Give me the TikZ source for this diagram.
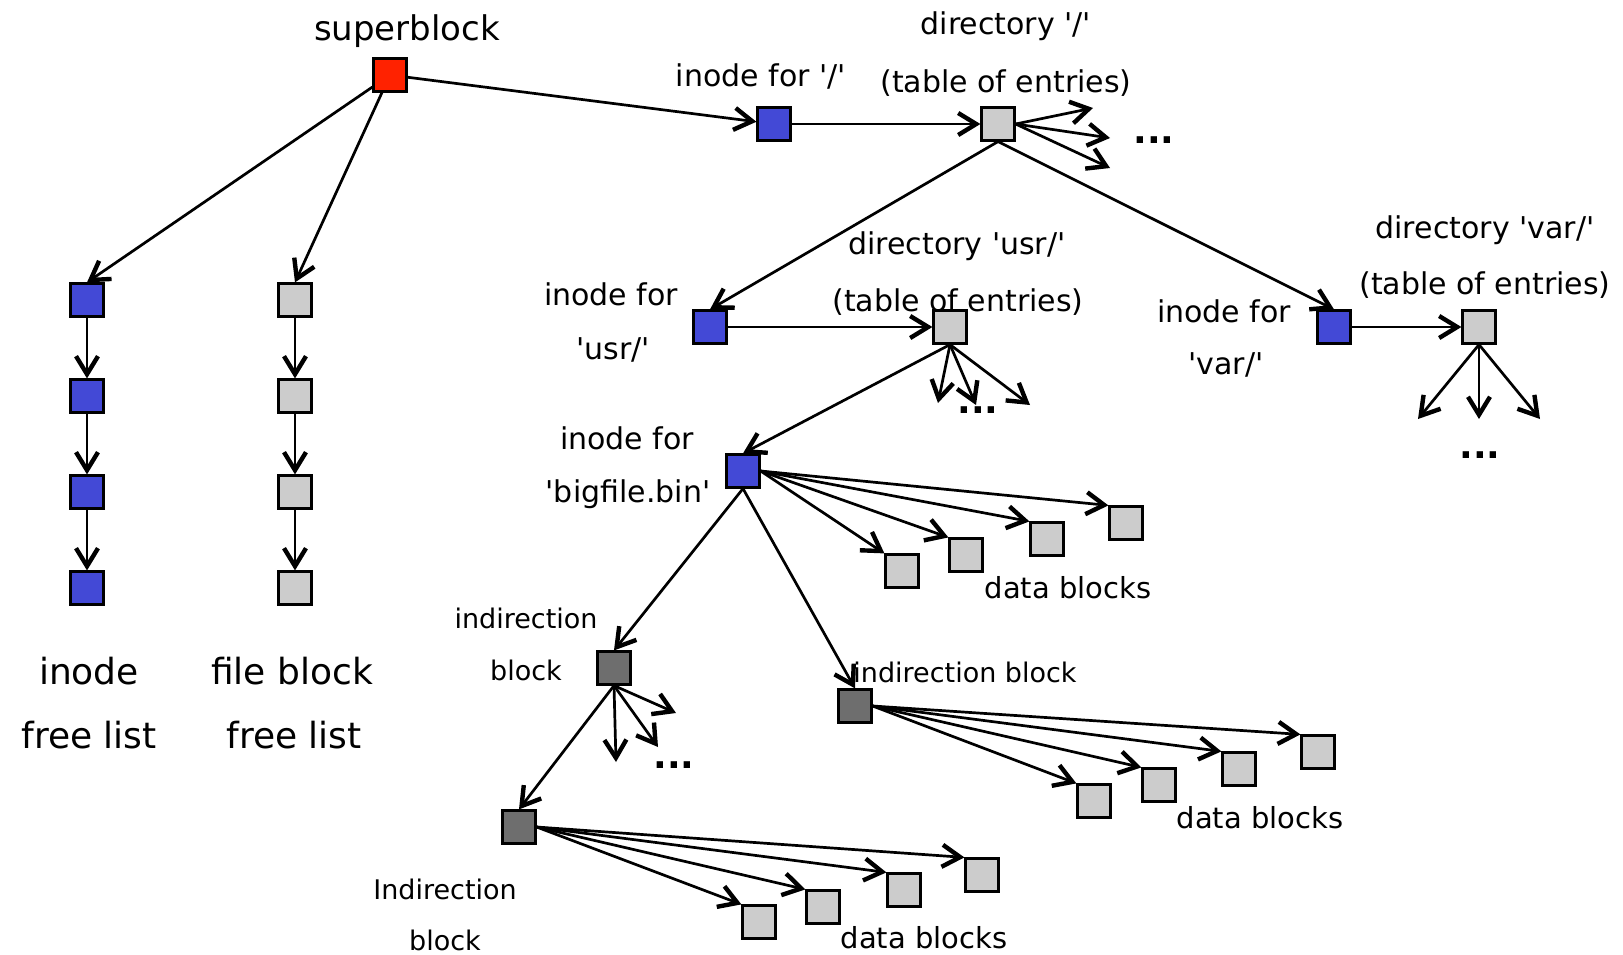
\documentclass[tikz,border=0pt]{standalone}
\usepackage{fontspec}
\setmainfont{DejaVu Sans}
\usetikzlibrary{arrows.meta}

\definecolor{superred}{RGB}{255,34,0}
\definecolor{inodeblue}{RGB}{67,73,214}
\definecolor{blockgray}{RGB}{204,204,204}
\definecolor{indirgray}{RGB}{110,110,110}

\newcommand{\q}{\textquotesingle}

\begin{document}
\begin{tikzpicture}[x=0.5pt,y=-0.5pt,->,>={Straight Barb[length=9pt,width=11pt,line width=2.2pt]},
                    line width=1.35pt,
                    blk/.style={draw,line width=1.1pt,minimum size=16.5pt,inner sep=0pt},
                    super/.style={blk,fill=superred},
                    inode/.style={blk,fill=inodeblue},
                    entry/.style={blk,fill=blockgray},
                    indir/.style={blk,fill=indirgray},
                    lbl/.style={inner sep=0pt,font=\fontsize{15pt}{18pt}\selectfont},
                    small lbl/.style={inner sep=0pt,font=\fontsize{13.5pt}{16pt}\selectfont},
                    big lbl/.style={inner sep=0pt,font=\fontsize{18pt}{22pt}\selectfont},
                    dots/.style={inner sep=0pt,font=\fontsize{18pt}{22pt}\selectfont\bfseries}]
  \useasboundingbox (0,0) rectangle (1623,954);

  % blocks
  \node[super] (sb) at (390,75) {};
  \node[inode] (ir) at (774,124) {};
  \node[entry] (dr) at (998,124) {};
  \foreach \y [count=\i] in {300,396,492,588} {
    \node[inode] (fi\i) at (87,\y) {};
    \node[entry] (fb\i) at (295,\y) {};
  }
  \node[inode] (iu) at (710,327) {};
  \node[entry] (du) at (950,327) {};
  \node[inode] (iv) at (1334,327) {};
  \node[entry] (dv) at (1479,327) {};
  \node[inode] (bf) at (743,471) {};
  \foreach \x/\y [count=\i] in {902/571,966/555,1047/539,1126/523}
    \node[entry] (bd\i) at (\x,\y) {};
  \node[indir] (il) at (614,668) {};
  \node[indir] (ix) at (855,706) {};
  \foreach \x/\y [count=\i] in {1094/801,1159/785,1239/769,1318/752}
    \node[entry] (xd\i) at (\x,\y) {};
  \node[indir] (ib) at (519,827) {};
  \foreach \x/\y [count=\i] in {759/922,823/907,904/890,982/875}
    \node[entry] (yd\i) at (\x,\y) {};

  % loose ends of the fans
  \coordinate (dr1) at (1093,108);
  \coordinate (dr2) at (1110,138);
  \coordinate (dr3) at (1110,168);
  \coordinate (du1) at (938,403);
  \coordinate (du2) at (976,405);
  \coordinate (du3) at (1030,405);
  \coordinate (dv1) at (1418,419);
  \coordinate (dv2) at (1479,419);
  \coordinate (dv3) at (1540,419);
  \coordinate (il1) at (616,762);
  \coordinate (il2) at (658,747);
  \coordinate (il3) at (676,713);

  % labels
  \node[lbl,font=\fontsize{17pt}{20pt}\selectfont] (tsb) at (407,31) {superblock};
  \node[lbl] (tir) at (761,76) {inode for \q/\q};
  \node[lbl] (tdr1) at (1006,26) {directory \q/\q};
  \node[lbl] (tdr2) at (1006,83) {(table of entries)};
  \node[big lbl] (tfi1) at (89,671) {inode};
  \node[big lbl] (tfi2) at (89,735) {free list};
  \node[big lbl] (tfb1) at (292,671) {file block};
  \node[big lbl] (tfb2) at (294,735) {free list};
  \node[lbl] (tiu1) at (611,294) {inode for};
  \node[lbl] (tiu2) at (613,350) {\q usr/\q};
  \node[lbl] (tdu1) at (957,246) {directory \q usr/\q};
  \node[lbl] (tdu2) at (958,302) {(table of entries)};
  \node[lbl] (tiv1) at (1224,311) {inode for};
  \node[lbl] (tiv2) at (1226,365) {\q var/\q};
  \node[lbl] (tdv1) at (1485,230) {directory \q var/\q};
  \node[lbl] (tdv2) at (1485,285) {(table of entries)};
  \node[lbl] (tbf1) at (627,438) {inode for};
  \node[lbl] (tbf2) at (628,494) {\q bigfile.bin\q};
  \node[lbl,font=\fontsize{14.5pt}{17pt}\selectfont] (tbd) at (1068,588) {data blocks};
  \node[small lbl] (til1) at (526,618) {indirection};
  \node[small lbl] (til2) at (526,670) {block};
  \node[small lbl] (tix) at (965,672) {indirection block};
  \node[lbl,font=\fontsize{14.5pt}{17pt}\selectfont] (txd) at (1260,818) {data blocks};
  \node[small lbl] (tib1) at (445,889) {Indirection};
  \node[small lbl] (tib2) at (445,940) {block};
  \node[lbl,font=\fontsize{14.5pt}{17pt}\selectfont] (tyd) at (924,938) {data blocks};
  \node[dots] (ddr) at (1154,140) {...};
  \node[dots] (ddu) at (978,410) {...};
  \node[dots] (ddv) at (1480,455) {...};
  \node[dots] (dil) at (674,765) {...};

  \path
    (sb) edge (ir)
    (sb) edge (fi1.north)
    (sb) edge (fb1.north)
    (fi1) edge (fi2) (fi2) edge (fi3) (fi3) edge (fi4)
    (fb1) edge (fb2) (fb2) edge (fb3) (fb3) edge (fb4)
    (ir) edge (dr)
    (dr.east) edge (dr1) (dr.east) edge (dr2) (dr.east) edge (dr3)
    (dr.south) edge (iu.north)
    (dr.south) edge (iv.north)
    (iu) edge (du)
    (du.south) edge (du1) (du.south) edge (du2) (du.south) edge (du3)
    (du.south) edge (bf.north)
    (iv) edge (dv)
    (dv.south) edge (dv1) (dv.south) edge (dv2) (dv.south) edge (dv3)
    (bf.south) edge (il.north)
    (bf.south) edge (ix.north)
    (il.south) edge (il1) (il.south) edge (il2) (il.south) edge (il3)
    (il.south) edge (ib.north);
  \foreach \i in {1,...,4} {
    \draw (bf.east) -- (bd\i.north west);
    \draw (ix.east) -- (xd\i.north west);
    \draw (ib.east) -- (yd\i.north west);
  }
\end{tikzpicture}
\end{document}
